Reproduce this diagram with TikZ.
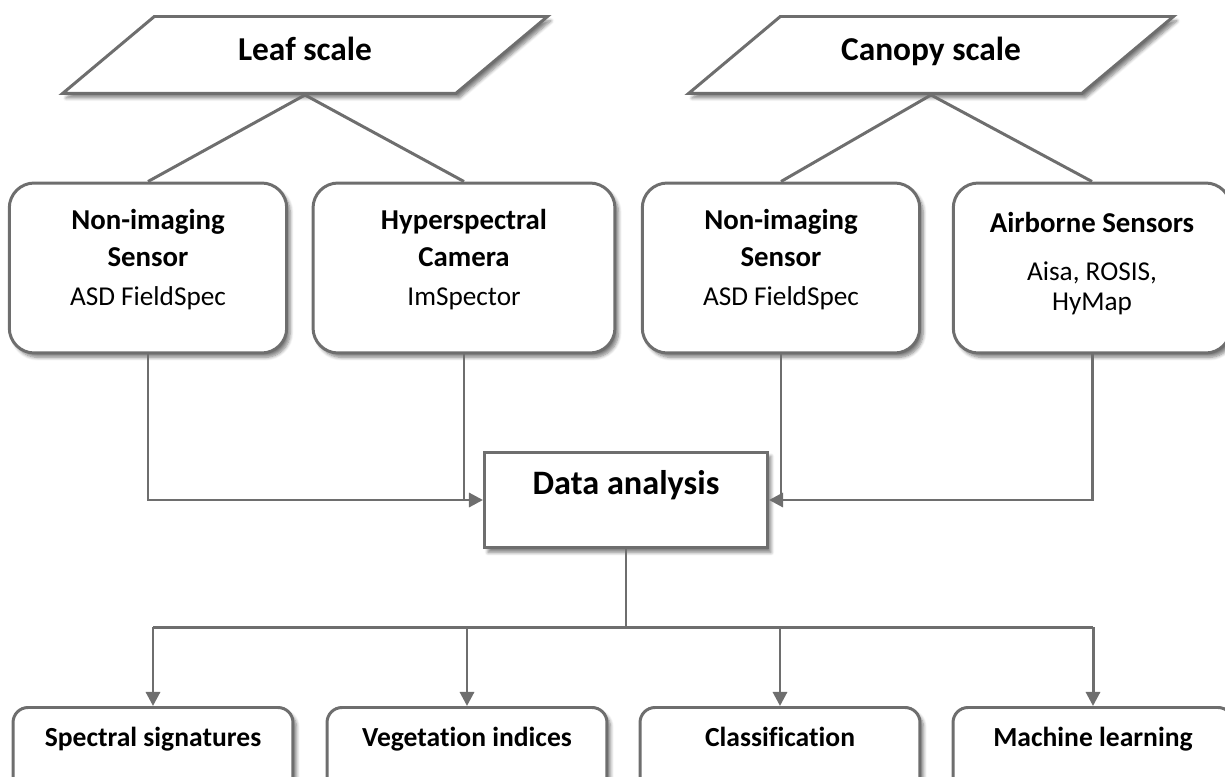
\documentclass[tikz,border=0pt]{standalone}
\usepackage{fontspec}
\setmainfont{Carlito}[Ligatures=NoCommon]
\usetikzlibrary{shapes.geometric,shadows.blur,arrows.meta}
\definecolor{linegray}{RGB}{110,110,110}
\newcommand{\subtxt}{\fontsize{15.5}{21}\selectfont\mdseries}
\begin{document}
\begin{tikzpicture}[x=0.02cm, y=-0.02cm,
    shade/.style={blur shadow={shadow xshift=2pt, shadow yshift=-2.5pt,
                  shadow blur steps=6, shadow opacity=50}},
    scalebox/.style={trapezium, draw=linegray, line width=1.7pt, fill=white, shade,
                trapezium left angle=40, trapezium right angle=140,
                trapezium stretches body, minimum width=9.7cm,
                text height=0.5cm, text depth=0.26cm, inner ysep=0.39cm,
                font=\fontsize{19}{22}\selectfont\bfseries},
    sensor/.style={draw=linegray, line width=1.7pt, fill=white, rounded corners=0.5cm,
                shade, minimum width=#1, minimum height=3.4cm, align=center,
                text depth=0.43cm, font=\fontsize{16.4}{21}\selectfont\bfseries},
    sensor/.default=5.55cm,
    result/.style={draw=linegray, line width=1.7pt, fill=white, rounded corners=0.3cm,
                shade, minimum width=5.6cm, anchor=north, inner ysep=0pt,
                text height=0.78cm, text depth=1.2cm,
                font=\fontsize{15.7}{19}\selectfont\bfseries},
    line/.style={draw=linegray, line width=1.7pt},
    arr/.style={line, -{Triangle[length=8pt, width=8pt]}},
]
\useasboundingbox (0,0) rectangle (1225,777);
\clip (0,0) rectangle (1225,777);

\node[scalebox] (leaf)   at (305,55) {Leaf scale};
\node[scalebox] (canopy) at (931,55) {Canopy scale};

\node[sensor]        (ni1) at (148,268)  {Non-imaging\\Sensor\\[1pt]{\subtxt ASD FieldSpec}};
\node[sensor=6.04cm] (hsc) at (464,268)  {Hyperspectral\\Camera\\[1pt]{\subtxt ImSpector}};
\node[sensor]        (ni2) at (781,268)  {Non-imaging\\Sensor\\[1pt]{\subtxt ASD FieldSpec}};
\node[sensor, text depth=0.26cm] (air) at (1092,268)
    {Airborne Sensors\\[6pt]{\subtxt Aisa, ROSIS,}\\[-4pt]{\subtxt HyMap}};

\node[draw=linegray, line width=1.7pt, fill=white, shade, minimum width=5.66cm,
      minimum height=1.92cm, text height=0.45cm, text depth=0.67cm,
      font=\fontsize{19.5}{22}\selectfont\bfseries] (data) at (626,500) {Data analysis};

\node[result] (sig) at (153,706)  {Spectral signatures};
\node[result] (veg) at (467,706)  {Vegetation indices};
\node[result] (cls) at (780,706)  {Classification};
\node[result] (ml)  at (1093,706) {Machine learning};

% scales to sensors
\draw[line] (leaf.south) -- (ni1.north);
\draw[line] (leaf.south) -- (hsc.north);
\draw[line] (canopy.south) -- (ni2.north);
\draw[line] (canopy.south) -- (air.north);

% sensors to analysis
\draw[arr]  (ni1.south) |- (data.west);
\draw[line] (hsc.south) -- (hsc.south |- data.west);
\draw[arr]  (air.south) |- (data.east);
\draw[line] (ni2.south) -- (ni2.south |- data.east);

% analysis to outputs
\draw[line] (data.south) -- ++(0,78) coordinate (split);
\draw[line] (sig.north |- split) -- (ml.north |- split);
\foreach \n in {sig,veg,cls,ml}
    \draw[arr] (\n.north |- split) -- (\n.north);
\end{tikzpicture}
\end{document}
